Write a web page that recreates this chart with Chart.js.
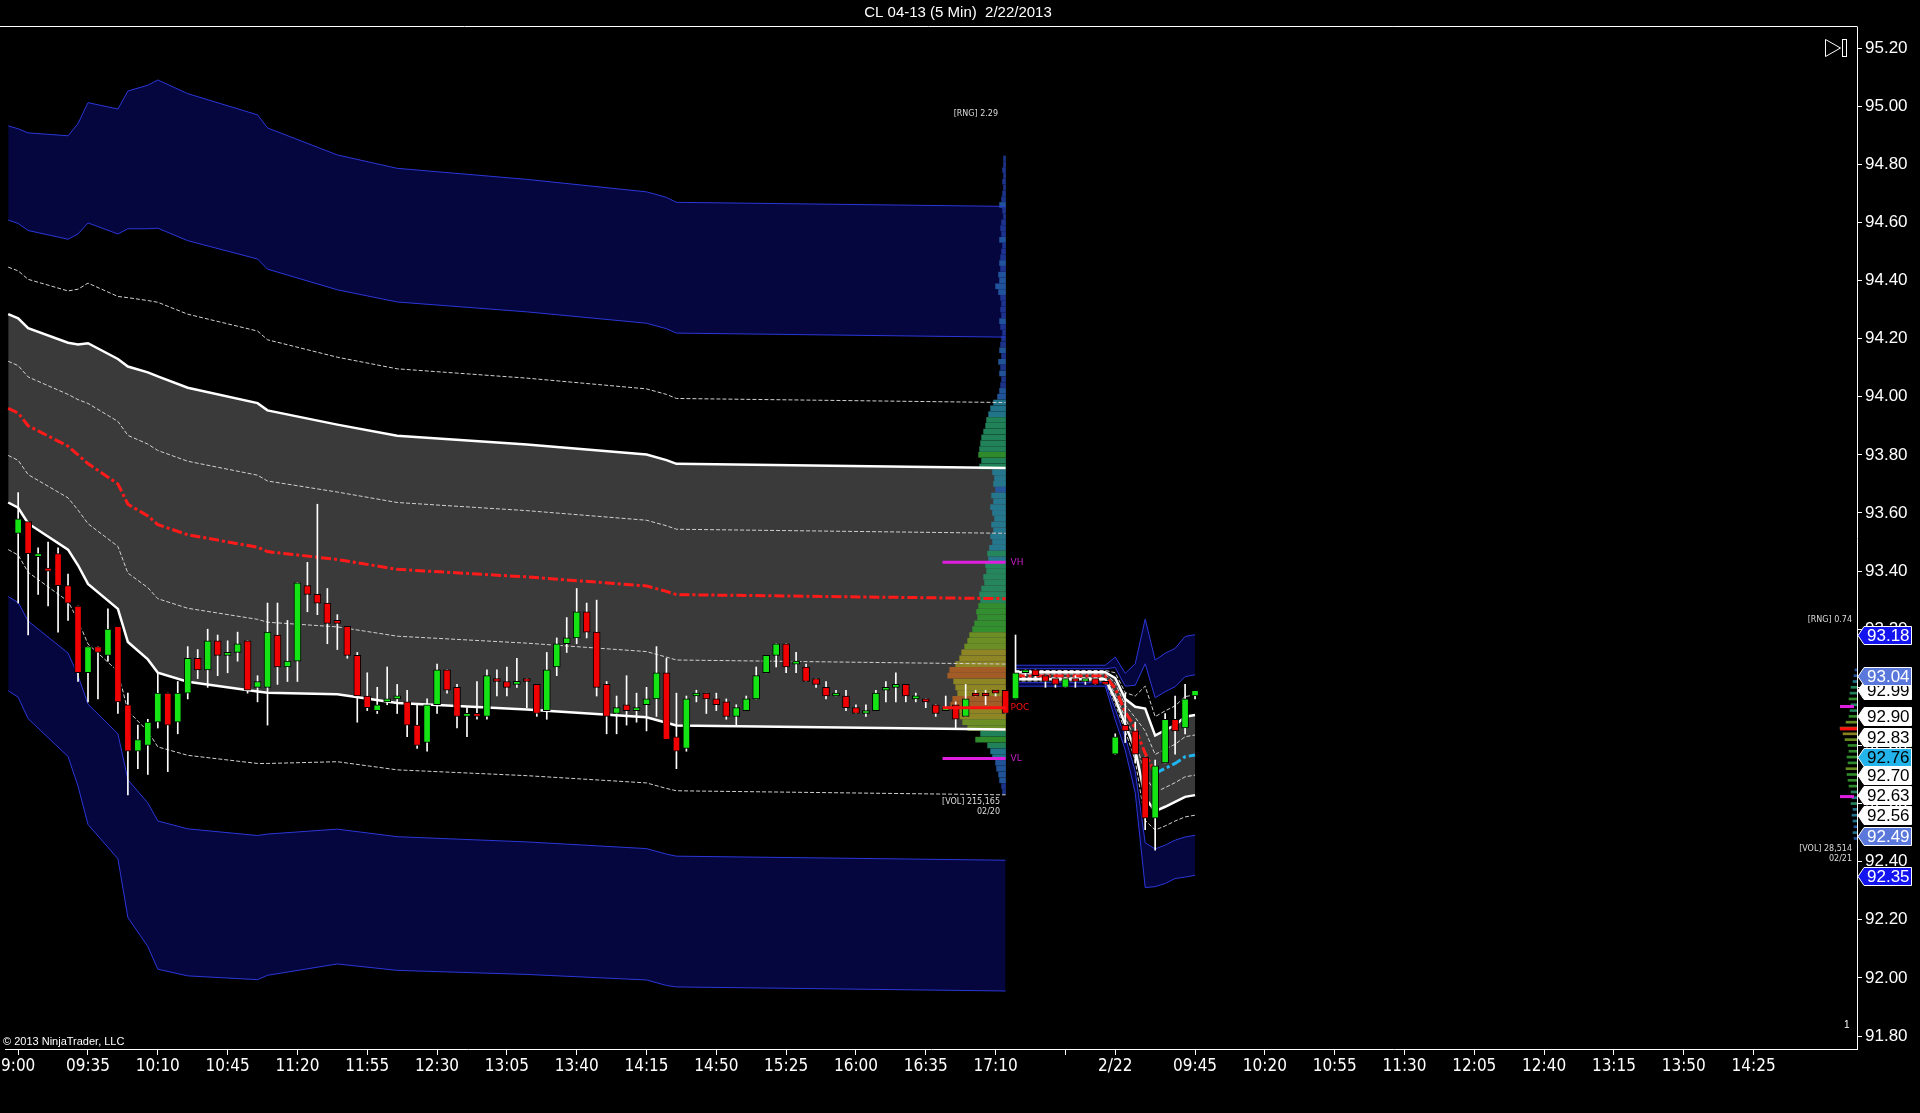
<!DOCTYPE html>
<html>
<head>
<meta charset="utf-8">
<title>CL 04-13 (5 Min) 2/22/2013</title>
<script src="https://cdn.jsdelivr.net/npm/chart.js@4.4.1/dist/chart.umd.min.js"></script>
<style>
  html, body { margin: 0; padding: 0; background: #000; overflow: hidden; }
  canvas { display: block; }
</style>
</head>
<body>
<canvas id="chart" width="1920" height="1113"></canvas>
<script>
// x axis: bar index -> label
const tickIdx = [0, 7, 14, 21, 28, 35, 42, 49, 56, 63, 70, 77, 84, 91, 98, 105,
                 110, 118, 125, 132, 139, 146, 153, 160, 167, 174];
const tickLabels = ["9:00", "09:35", "10:10", "10:45", "11:20", "11:55", "12:30", "13:05",
                    "13:40", "14:15", "14:50", "15:25", "16:00", "16:35", "17:10", "",
                    "2/22", "09:45", "10:20", "10:55", "11:30", "12:05", "12:40", "13:15",
                    "13:50", "14:25"];
const yTickValues = [91.8, 92.0, 92.2, 92.4, 92.6, 92.8, 93.0, 93.2, 93.4, 93.6,
                     93.8, 94.0, 94.2, 94.4, 94.6, 94.8, 95.0, 95.2];

// 5 min bars
const opens = [
  93.53, 93.57, 93.45, 93.41, 93.46, 93.35, 93.28, 93.05, 93.14, 93.11,
  93.21, 92.94, 92.78, 92.80, 92.88, 92.98, 92.88, 92.98, 93.10, 93.06,
  93.16, 93.11, 93.12, 93.16, 93.00, 93.00, 93.18, 93.07, 93.09, 93.35,
  93.32, 93.29, 93.23, 93.21, 93.11, 92.97, 92.92, 92.95, 92.96, 92.95,
  92.87, 92.81, 92.94, 93.06, 93.00, 92.90, 92.91, 92.90, 93.03, 93.02,
  93.01, 93.03, 93.01, 92.92, 93.07, 93.15, 93.17, 93.26, 93.19, 93.01,
  92.91, 92.94, 92.92, 92.94, 92.96, 93.05, 92.83, 92.79, 92.97, 92.98,
  92.96, 92.95, 92.90, 92.92, 92.96, 93.05, 93.11, 93.15, 93.08, 93.07,
  93.03, 93.00, 92.97, 92.97, 92.93, 92.91, 92.92, 92.99, 93.00, 93.01,
  92.96, 92.96, 92.94, 92.92, 92.94, 92.90, 92.98, 92.98, 92.99, 92.99,
  92.96, 93.05, 93.06, 93.04, 93.03, 93.00, 93.03, 93.02, 93.03, 93.02,
  92.77, 92.87, 92.85, 92.76, 92.55, 92.74, 92.89, 92.86, 92.97];
const highs = [
  93.67, 93.57, 93.48, 93.50, 93.48, 93.39, 93.28, 93.14, 93.14, 93.27,
  93.21, 92.98, 92.87, 92.89, 93.05, 92.98, 93.02, 93.14, 93.13, 93.20,
  93.18, 93.16, 93.19, 93.16, 93.04, 93.29, 93.29, 93.23, 93.36, 93.43,
  93.63, 93.34, 93.25, 93.21, 93.12, 93.05, 93.00, 93.07, 93.01, 92.99,
  92.94, 92.96, 93.08, 93.06, 93.01, 92.93, 93.02, 93.06, 93.06, 93.07,
  93.10, 93.03, 93.01, 93.12, 93.17, 93.24, 93.34, 93.29, 93.30, 93.02,
  92.97, 93.04, 92.98, 93.00, 93.14, 93.10, 92.98, 92.97, 92.99, 92.98,
  92.98, 92.96, 92.94, 92.97, 93.07, 93.11, 93.15, 93.15, 93.12, 93.08,
  93.03, 93.02, 92.99, 92.99, 92.94, 92.94, 92.99, 93.02, 93.05, 93.01,
  92.98, 92.96, 92.94, 92.97, 92.95, 93.01, 92.99, 92.99, 92.99, 92.99,
  93.18, 93.06, 93.06, 93.04, 93.03, 93.03, 93.04, 93.03, 93.03, 93.02,
  92.84, 92.98, 92.88, 92.76, 92.75, 92.91, 92.97, 93.01, 92.99];
const lows = [
  93.29, 93.18, 93.32, 93.28, 93.19, 93.23, 93.02, 92.95, 92.96, 93.09,
  92.91, 92.63, 92.72, 92.70, 92.86, 92.71, 92.84, 92.96, 93.03, 93.00,
  93.04, 93.05, 93.09, 92.98, 92.95, 92.87, 93.01, 93.02, 93.02, 93.26,
  93.25, 93.15, 93.13, 93.10, 92.88, 92.92, 92.91, 92.94, 92.91, 92.83,
  92.79, 92.78, 92.91, 92.98, 92.86, 92.83, 92.89, 92.89, 92.97, 92.97,
  93.00, 92.93, 92.90, 92.89, 93.04, 93.12, 93.15, 93.17, 92.97, 92.84,
  92.84, 92.87, 92.88, 92.85, 92.90, 92.82, 92.72, 92.78, 92.95, 92.91,
  92.92, 92.89, 92.87, 92.92, 92.96, 93.05, 93.07, 93.05, 93.05, 93.02,
  93.00, 92.96, 92.97, 92.92, 92.91, 92.90, 92.92, 92.95, 92.95, 92.95,
  92.95, 92.93, 92.90, 92.92, 92.86, 92.90, 92.97, 92.94, 92.97, 92.91,
  92.96, 93.04, 93.03, 93.00, 93.00, 93.00, 93.00, 93.01, 93.01, 93.01,
  92.77, 92.81, 92.74, 92.51, 92.44, 92.74, 92.77, 92.84, 92.96];
const closes = [
  93.58, 93.46, 93.46, 93.40, 93.35, 93.29, 93.05, 93.14, 93.12, 93.20,
  92.95, 92.78, 92.82, 92.88, 92.98, 92.87, 92.98, 93.10, 93.06, 93.16,
  93.11, 93.12, 93.15, 92.99, 93.02, 93.19, 93.07, 93.09, 93.36, 93.32,
  93.29, 93.22, 93.22, 93.11, 92.97, 92.93, 92.94, 92.96, 92.97, 92.87,
  92.80, 92.94, 93.06, 92.99, 92.90, 92.91, 92.90, 93.04, 93.02, 93.00,
  93.02, 93.02, 92.91, 93.06, 93.15, 93.17, 93.26, 93.19, 93.00, 92.90,
  92.93, 92.92, 92.93, 92.96, 93.05, 92.82, 92.78, 92.96, 92.98, 92.96,
  92.94, 92.90, 92.93, 92.96, 93.04, 93.11, 93.15, 93.07, 93.08, 93.02,
  93.01, 92.97, 92.97, 92.93, 92.91, 92.92, 92.98, 93.00, 93.01, 92.97,
  92.96, 92.95, 92.91, 92.93, 92.89, 92.96, 92.97, 92.97, 92.98, 92.91,
  93.05, 93.06, 93.04, 93.02, 93.01, 93.03, 93.02, 93.02, 93.01, 93.01,
  92.83, 92.85, 92.77, 92.55, 92.73, 92.89, 92.85, 92.96, 92.99];

// VWAP and one standard deviation, read at bar indices
const s1Idx  = [-1, 0, 1, 5, 6, 7, 10, 11, 13, 14, 17, 24, 25, 32, 38, 51, 63, 65, 66, 99];
const s1Vwap = [93.96, 93.944, 93.90, 93.83, 93.80, 93.77, 93.70, 93.63, 93.59, 93.56,
                93.525, 93.482, 93.467, 93.44, 93.406, 93.38, 93.349, 93.33, 93.319, 93.305];
const s1Dev  = [0.162, 0.163, 0.168, 0.178, 0.19, 0.207, 0.215, 0.237, 0.247, 0.255,
                0.253, 0.248, 0.243, 0.232, 0.230, 0.228, 0.226, 0.226, 0.225, 0.225];
const s2Idx  = [100, 109, 110, 111, 112, 113, 114, 115, 116, 117, 118];
const s2Vwap = [93.04, 93.04, 92.996, 92.916, 92.859, 92.773, 92.704, 92.721, 92.738, 92.761, 92.767];
const s2Dev  = [0.006, 0.006, 0.018, 0.022, 0.037, 0.077, 0.065, 0.066, 0.066, 0.069, 0.069];
const bandMult = [6, 4, 3, 2, 1, 0, -1, -2, -3, -4, -6];

// volume profiles (price level, contracts)
const prof1Levels = [
  94.82, 94.80, 94.78, 94.76, 94.74, 94.72, 94.70, 94.68, 94.66, 94.64, 94.62, 94.60,
  94.58, 94.56, 94.54, 94.52, 94.50, 94.48, 94.46, 94.44, 94.42, 94.40,
  94.38, 94.36, 94.34, 94.32, 94.30, 94.28, 94.26, 94.24, 94.22, 94.20,
  94.18, 94.16, 94.14, 94.12, 94.10, 94.08, 94.06, 94.04, 94.02, 94.00,
  93.98, 93.96, 93.94, 93.92, 93.90, 93.88, 93.86, 93.84, 93.82, 93.80,
  93.78, 93.76, 93.74, 93.72, 93.70, 93.68, 93.66, 93.64, 93.62, 93.60,
  93.58, 93.56, 93.54, 93.52, 93.50, 93.48, 93.46, 93.44, 93.42, 93.40,
  93.38, 93.36, 93.34, 93.32, 93.30, 93.28, 93.26, 93.24, 93.22, 93.20,
  93.18, 93.16, 93.14, 93.12, 93.10, 93.08, 93.06, 93.04, 93.02, 93.00,
  92.98, 92.96, 92.94, 92.92, 92.90, 92.88, 92.86, 92.84, 92.82, 92.80,
  92.78, 92.76, 92.74, 92.72, 92.70, 92.68, 92.66, 92.64];
const prof1Vol = [
  200, 200, 300, 200, 300, 200, 300, 400, 600, 300, 200, 400,
  500, 400, 600, 300, 400, 500, 600, 500, 700, 600,
  1000, 700, 500, 400, 500, 400, 600, 500, 300, 400,
  500, 600, 400, 700, 500, 600, 400, 500, 600, 800,
  1200, 1500, 1700, 1900, 2000, 2200, 2400, 2500, 2600, 2700,
  2400, 2600, 1300, 1100, 1200, 1000, 1400, 1200, 1500, 1300,
  1100, 1400, 1200, 1500, 1300, 1600, 1800, 1700, 2000, 1900,
  2200, 2100, 2400, 2600, 2500, 2700, 2900, 2800, 3100, 3300,
  3600, 3800, 4100, 4400, 4600, 5000, 5600, 5800, 5200, 5000,
  4800, 5300, 5500, 5200, 4600, 4300, 3800, 2500, 3000, 1800,
  1500, 1300, 1000, 900, 700, 600, 400, 300];
const prof2Levels = [
  93.06, 93.04, 93.02, 93.00, 92.98, 92.96, 92.94, 92.92, 92.90, 92.88,
  92.86, 92.84, 92.82, 92.80, 92.78, 92.76, 92.74, 92.72, 92.70, 92.68,
  92.66, 92.64, 92.62, 92.60, 92.58, 92.56, 92.54, 92.52, 92.50, 92.48];
const prof2Vol = [
  250, 375, 500, 750, 875, 1000, 750, 875, 1000, 1375,
  2125, 1750, 1500, 1125, 1000, 1250, 1125, 1375, 1250, 1125,
  1000, 750, 625, 750, 500, 625, 500, 375, 500, 375];
const prof1Marks = [93.43, 92.93, 92.755];   // VH, POC, VL
const prof2Marks = [92.934, 92.857, 92.624];

// price markers on the right axis
const priceMarks = [93.18, 93.04, 92.99, 92.90, 92.83, 92.76, 92.70, 92.63, 92.56, 92.49, 92.35];
const priceMarkKind = ["b6", "b4", "last", "w", "w", "vwap", "w", "w", "w", "b4", "b6"];

const markStyle = {
  b6:   { bg: "#1414f0", fg: "#fff", edge: "#fff" },
  b4:   { bg: "#5a78dc", fg: "#fff", edge: "#fff" },
  last: { bg: "#fff",    fg: "#000", edge: "#fff" },
  w:    { bg: "#fff",    fg: "#000", edge: "#fff" },
  vwap: { bg: "#22b4ea", fg: "#000", edge: "#fff" }
};

const GREEN = "#14e414", RED = "#f00000";
const BLUE_FILL = "rgb(6,6,62)", GREY_FILL = "#3a3a3a";

function profColor(v, max) {
  const r = v / max;
  if (r > 0.9) return "rgba(172,96,36,0.92)";
  if (r > 0.75) return "rgba(150,140,36,0.92)";
  if (r > 0.6) return "rgba(112,150,36,0.92)";
  if (r > 0.45) return "rgba(50,150,46,0.92)";
  if (r > 0.3) return "rgba(36,140,96,0.92)";
  if (r > 0.18) return "rgba(36,125,150,0.92)";
  if (r > 0.1) return "rgba(36,90,165,0.92)";
  return "rgba(30,55,150,0.92)";
}

const idx = opens.map((_, i) => i);
const datasets = [];

function addBands(bIdx, vwap, dev) {
  bandMult.forEach(m => {
    const a = Math.abs(m);
    const ds = {
      type: "line",
      data: bIdx.map((x, k) => ({ x: x, y: vwap[k] + m * dev[k] })),
      pointRadius: 0, tension: 0, order: 3, fill: false,
      borderWidth: 1, borderColor: "#fff"
    };
    if (a === 6 || a === 4) {
      ds.borderColor = "#2a36d8";
    } else if (a === 3 || a === 1) {
      ds.borderColor = "#d0d0d0";
      ds.borderDash = [4, 2];
    } else if (a === 2) {
      ds.borderWidth = 2.5;
    } else {
      ds.borderWidth = 3;
      ds.borderColor = "#ff1a1a";
      ds.borderDash = [10, 3, 3, 3];
      // rising vwap is cyan, falling is red
      ds.segment = { borderColor: c => c.p1.parsed.y > c.p0.parsed.y ? "#20b4f0" : "#ff1a1a" };
    }
    if (m === 6) { ds.fill = "+1"; ds.backgroundColor = BLUE_FILL; }
    if (m === 2) { ds.fill = "+4"; ds.backgroundColor = GREY_FILL; }
    if (m === -6) { ds.fill = "-1"; ds.backgroundColor = BLUE_FILL; }
    datasets.push(ds);
  });
}
addBands(s1Idx, s1Vwap, s1Dev);
addBands(s2Idx, s2Vwap, s2Dev);

const max1 = Math.max(...prof1Vol), max2 = Math.max(...prof2Vol);
datasets.push({
  type: "bar", indexAxis: "y", xAxisID: "xv1", yAxisID: "y",
  data: prof1Levels.map((p, k) => ({ y: p, x: prof1Vol[k] })),
  backgroundColor: prof1Vol.map(v => profColor(v, max1)),
  barThickness: 5, grouped: false, order: 5
});
datasets.push({
  type: "bar", indexAxis: "y", xAxisID: "xv2", yAxisID: "y",
  data: prof2Levels.map((p, k) => ({ y: p, x: prof2Vol[k] })),
  backgroundColor: prof2Vol.map(v => profColor(v, max2)),
  barThickness: 2, grouped: false, order: 5
});

datasets.push({
  type: "bar", xAxisID: "x", yAxisID: "y",
  data: idx.map(i => ({ x: i, y: [lows[i], highs[i]] })),
  backgroundColor: "#fff", barThickness: 1, grouped: false, order: 2
});
datasets.push({
  type: "bar", xAxisID: "x", yAxisID: "y",
  data: idx.map(i => ({ x: i, y: [opens[i], closes[i]] })),
  backgroundColor: idx.map(i => closes[i] >= opens[i] ? GREEN : RED),
  borderColor: "#000", borderWidth: 1, borderSkipped: false,
  barThickness: 7, minBarLength: 3, grouped: false, order: 1
});

const decor = {
  id: "decor",
  beforeDraw(chart) {
    const c = chart.ctx;
    c.save();
    c.fillStyle = "#000";
    c.fillRect(0, 0, chart.width, chart.height);
    c.restore();
  },
  afterDatasetsDraw(chart) {
    const c = chart.ctx, y = chart.scales.y;
    const a1 = chart.scales.xv1.getPixelForValue(0);
    const a2 = chart.scales.xv2.getPixelForValue(0);
    c.save();
    const lvl = (x0, x1, v, col) => {
      const py = y.getPixelForValue(v);
      c.strokeStyle = col; c.lineWidth = 3;
      c.beginPath(); c.moveTo(x0, py); c.lineTo(x1, py); c.stroke();
      return py;
    };
    const vh = lvl(a1 - 63, a1, prof1Marks[0], "#e01ee0");
    const poc = lvl(a1 - 63, a1, prof1Marks[1], "#ff1010");
    const vl = lvl(a1 - 63, a1, prof1Marks[2], "#e01ee0");
    lvl(a2 - 17, a2 - 3, prof2Marks[0], "#e01ee0");
    lvl(a2 - 17, a2, prof2Marks[1], "#ff1010");
    lvl(a2 - 17, a2 - 3, prof2Marks[2], "#e01ee0");
    c.font = '9px "DejaVu Sans"';
    c.textBaseline = "middle";
    c.textAlign = "left";
    c.fillStyle = "#c81ec8";
    c.fillText("VH", a1 + 5, vh);
    c.fillText("VL", a1 + 5, vl);
    c.fillStyle = "#ff1010";
    c.fillText("POC", a1 + 5, poc);
    c.restore();
  },
  afterDraw(chart) {
    const c = chart.ctx, y = chart.scales.y, ca = chart.chartArea;
    c.save();
    // frame top line
    c.strokeStyle = "#fff"; c.lineWidth = 1;
    c.beginPath(); c.moveTo(0, ca.top - 0.5); c.lineTo(ca.right + 0.5, ca.top - 0.5); c.stroke();

    c.fillStyle = "#fff";
    c.textBaseline = "middle";
    c.textAlign = "center";
    c.font = '15px "Liberation Sans"';
    c.fillText("CL 04-13 (5 Min)  2/22/2013", 958, 13);

    c.textAlign = "left";
    c.font = '11px "Liberation Sans"';
    c.fillText("\u00a9 2013 NinjaTrader, LLC", 3, 1042);
    c.font = '10px "Liberation Sans"';
    c.fillText("1", 1844, 1025);

    c.fillStyle = "#dcdcdc";
    c.textAlign = "right";
    c.font = '8px "DejaVu Sans"';
    c.fillText("[RNG] 2.29", 998, 114);
    c.fillText("[VOL] 215,165", 1000, 802);
    c.fillText("02/20", 1000, 812);
    c.fillText("[RNG] 0.74", 1852, 620);
    c.fillText("[VOL] 28,514", 1852, 849);
    c.fillText("02/21", 1852, 859);

    // right axis price markers
    c.font = '17px "Liberation Sans"';
    c.textAlign = "left";
    for (let k = priceMarks.length - 1; k >= 0; k--) {
      const st = markStyle[priceMarkKind[k]];
      const py = Math.round(y.getPixelForValue(priceMarks[k])) + 0.5;
      c.beginPath();
      c.moveTo(ca.right + 1, py);
      c.lineTo(ca.right + 7, py - 9);
      c.lineTo(1911.5, py - 9);
      c.lineTo(1911.5, py + 9);
      c.lineTo(ca.right + 7, py + 9);
      c.closePath();
      c.fillStyle = st.bg; c.fill();
      c.strokeStyle = st.edge; c.lineWidth = 1; c.stroke();
      c.fillStyle = st.fg;
      c.fillText(priceMarks[k].toFixed(2), 1867, py + 1);
    }

    // go-to-end icon
    c.strokeStyle = "#fff"; c.lineWidth = 1;
    c.beginPath();
    c.moveTo(1825.5, 39.5); c.lineTo(1825.5, 56.5); c.lineTo(1840.5, 48); c.closePath();
    c.stroke();
    c.strokeRect(1842.5, 39.5, 4, 17);
    c.restore();
  }
};

Chart.defaults.color = "#fff";
Chart.defaults.font.family = '"Liberation Sans", Arial, sans-serif';

new Chart(document.getElementById("chart").getContext("2d"), {
  type: "line",
  data: { datasets: datasets },
  options: {
    responsive: false,
    animation: false,
    devicePixelRatio: 1,
    events: [],
    layout: { padding: { top: 27, left: 1, right: 0, bottom: 0 } },
    plugins: {
      legend: { display: false },
      tooltip: { enabled: false },
      filler: { drawTime: "beforeDatasetsDraw", propagate: false }
    },
    scales: {
      x: {
        type: "linear", min: -1.23, max: 184.37, offset: false,
        grid: { display: true, drawOnChartArea: false, drawTicks: true, tickLength: 6, color: "#fff", offset: false },
        border: { display: true, color: "#fff", width: 1 },
        ticks: {
          autoSkip: false, maxRotation: 0, padding: 1, color: "#fff",
          font: { family: '"Liberation Sans Narrow", "DejaVu Sans Condensed", sans-serif', size: 17 },
          callback: v => { const k = tickIdx.indexOf(v); return k >= 0 ? tickLabels[k] : ""; }
        },
        afterBuildTicks: s => { s.ticks = tickIdx.map(v => ({ value: v })); },
        afterFit: s => { s.height = 64; }
      },
      xv1: { type: "linear", display: false, reverse: true, min: -85370, max: 100230, offset: false },
      xv2: { type: "linear", display: false, reverse: true, min: 0, max: 232000, offset: false },
      y: {
        type: "linear", position: "right", min: 91.7554, max: 95.2723, offset: false,
        grid: { display: true, drawOnChartArea: false, drawTicks: true, tickLength: 5, color: "#fff", offset: false },
        border: { display: true, color: "#fff", width: 1 },
        ticks: {
          padding: 3, color: "#fff",
          font: { family: '"Liberation Sans", Arial, sans-serif', size: 17 },
          callback: v => v.toFixed(2)
        },
        afterBuildTicks: s => { s.ticks = yTickValues.map(v => ({ value: v })); },
        afterFit: s => { s.width = 63; }
      }
    }
  },
  plugins: [decor]
});
</script>
</body>
</html>
